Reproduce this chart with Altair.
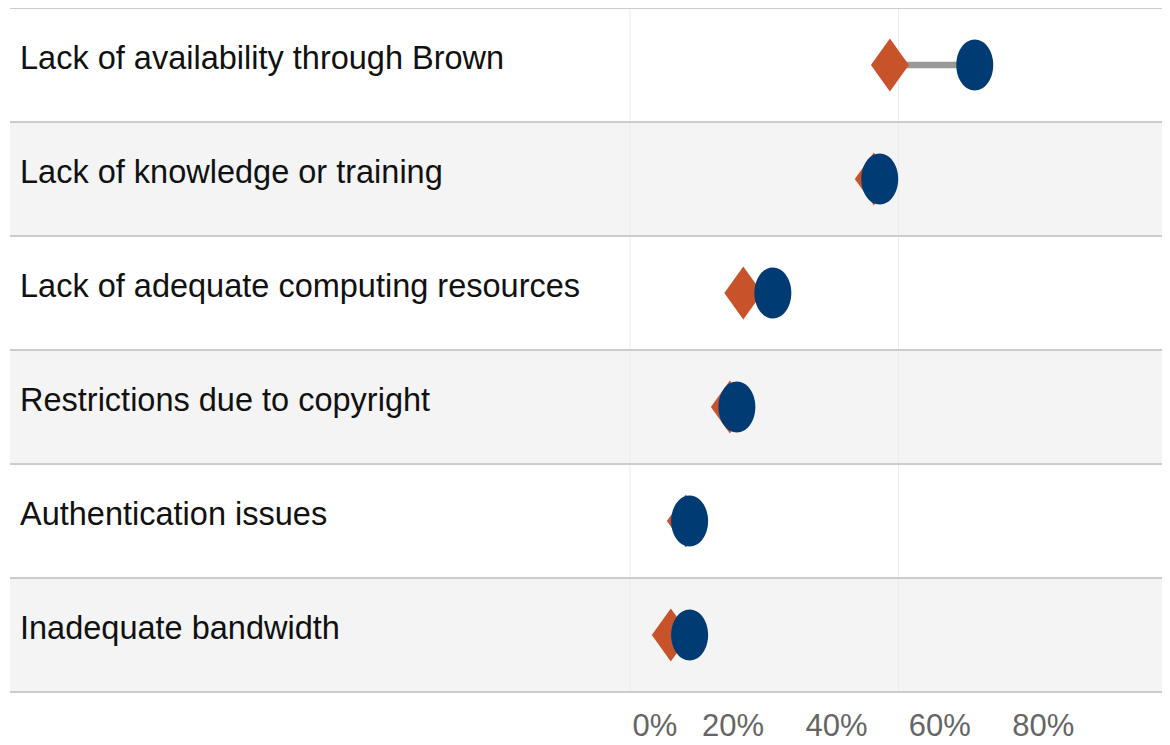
import altair as alt
import pandas as pd

categories = [
    "Lack of availability through Brown",
    "Lack of knowledge or training",
    "Lack of adequate computing resources",
    "Restrictions due to copyright",
    "Authentication issues",
    "Inadequate bandwidth",
]
diamond_values = [48.4, 45.4, 21.1, 18.6, 10.4, 7.6]
circle_values = [64.2, 46.5, 26.6, 19.9, 11.1, 11.1]
tick_values = [0, 20, 40, 60, 80]
grid_values = [0, 50, 100]

FONT = "Liberation Sans, Arial, sans-serif"
W = 1152
H = 684

df = pd.DataFrame({
    "category": categories,
    "diamond": diamond_values,
    "circle": circle_values,
    "stripe": ["#ffffff" if i % 2 == 0 else "#f4f4f4" for i in range(len(categories))],
})
grid_df = pd.DataFrame({"g": grid_values})
tick_df = pd.DataFrame({"t": tick_values})

xscale = alt.Scale(domain=[0, 100], range=[620, 1157], nice=False, zero=False)
axis_scale = alt.Scale(domain=[0, 104], range=[619, 1157], nice=False, zero=False)
yscale = alt.Scale(type="band", domain=categories, paddingInner=0, paddingOuter=0)

Y = alt.Y("category:N", scale=yscale, axis=None)

base = alt.Chart(df)

bg = base.mark_rect().encode(
    y=Y, x=alt.value(0), x2=alt.value(W),
    color=alt.Color("stripe:N", scale=None),
)

row_top = base.mark_rule(color="#cccccc", strokeWidth=2).encode(
    y=alt.Y("category:N", scale=yscale, axis=None, bandPosition=0),
    x=alt.value(0), x2=alt.value(W),
)
row_bot = base.mark_rule(color="#cccccc", strokeWidth=2).encode(
    y=alt.Y("category:N", scale=yscale, axis=None, bandPosition=1),
    x=alt.value(0), x2=alt.value(W),
)

grid = alt.Chart(grid_df).mark_rule(color="#ebebeb", strokeWidth=1).encode(
    x=alt.X("g:Q", scale=xscale, axis=None),
)

connector = base.mark_rule(color="#999999", strokeWidth=6.5).encode(
    y=Y,
    x=alt.X("diamond:Q", scale=xscale, axis=None),
    x2="circle:Q",
)

diamond = base.mark_point(
    shape="M 0 -1 L 0.717 0 L 0 1 L -0.717 0 Z",
    filled=True, opacity=1, size=2809, color="#c8532a", strokeWidth=0,
).encode(y=Y, x=alt.X("diamond:Q", scale=xscale, axis=None))

circle = base.mark_point(
    shape="M -0.725 0 A 0.725 1 0 1 0 0.725 0 A 0.725 1 0 1 0 -0.725 0 Z",
    filled=True, opacity=1, size=2601, color="#003b73", strokeWidth=0,
).encode(y=Y, x=alt.X("circle:Q", scale=xscale, axis=None))

labels = base.mark_text(
    align="left", baseline="middle", font=FONT, fontSize=32.5, color="#111111", dy=-6,
).encode(y=Y, x=alt.value(10), text="category:N")

axis_layer = alt.Chart(tick_df).mark_point(opacity=0, size=1).encode(
    x=alt.X("t:Q", scale=axis_scale, axis=alt.Axis(
        values=tick_values, labelExpr="datum.value + '%'", domain=False, ticks=False,
        grid=False, title=None, labelFont=FONT, labelFontSize=31, labelColor="#666666",
        labelPadding=19, labelFlush=True, labelFlushOffset=-3,
    )),
    y=alt.value(H / 2),
)

chart = alt.layer(
    bg, grid, row_top, row_bot, connector, diamond, circle, labels, axis_layer
).resolve_scale(x="independent").properties(
    width=W, height=H,
    padding={"left": 2, "top": 0, "right": 0, "bottom": 61},
    autosize=alt.AutoSizeParams(type="none"),
    background="#ffffff",
).configure_view(stroke=None)

chart.save("out.html", embed_options={"renderer": "svg", "actions": False})
